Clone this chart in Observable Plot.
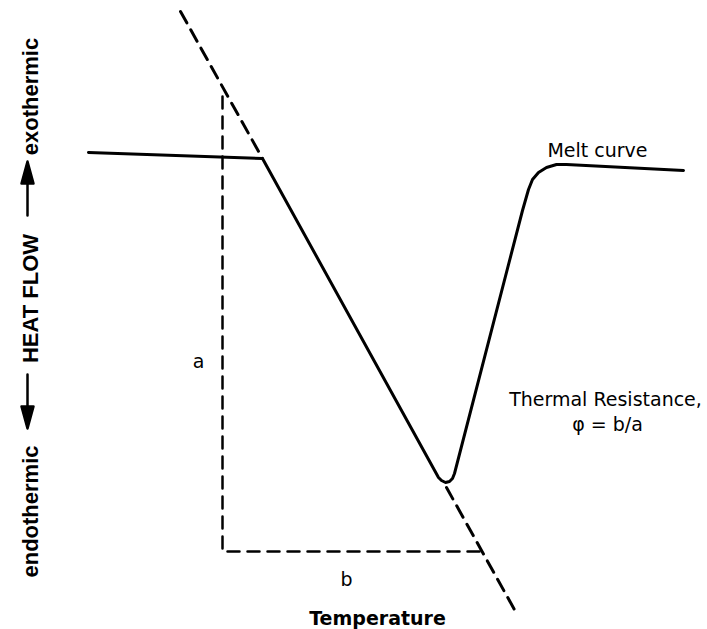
<!DOCTYPE html>
<html>
<head>
<meta charset="utf-8">
<script src="https://cdn.jsdelivr.net/npm/d3@7"></script>
<script src="https://cdn.jsdelivr.net/npm/@observablehq/plot@0.6"></script>
<style>
  html, body { margin: 0; padding: 0; background: #fff; }
  #chart svg { display: block; }
</style>
</head>
<body>
<div id="chart"></div>
<script>
// Schematic DSC melt curve (arbitrary units: temperature →, heat flow ↑)
const meltTemp = [88, 262, 438, 441, 445, 449, 452, 454, 522, 528, 532, 538, 546, 556, 566, 683];
const meltFlow = [477, 471, 152, 149, 147, 148, 151, 156, 419, 440, 450, 457, 462, 465, 465, 459];

// Extrapolated leading-edge slope (dashed), upper and lower parts
const slopeUpperTemp = [180, 262];
const slopeUpperFlow = [618, 471];
const slopeLowerTemp = [446, 515];
const slopeLowerFlow = [142, 18];

// Construction triangle: a (vertical) and b (horizontal)
const legTemp = [222, 222, 479];
const legFlow = [533, 78, 78];

// Annotations
const noteText = ["Melt curve", "Thermal Resistance,", "φ = b/a", "a", "b"];
const noteTemp = [597, 605, 607, 198, 346];
const noteFlow = [479, 230, 205, 268, 50];

const xTitle = "Temperature";
const xTitleTemp = 377, xTitleFlow = 11;

const yParts = ["exothermic", "HEAT FLOW", "endothermic"];
const yPartsFlow = [533, 331, 118];
const yPartsTemp = 30;
const yArrowStart = [414, 255];
const yArrowDir = [0, 180];
const yArrowTemp = 27;

const pts = (xs, ys) => xs.map((x, i) => ({x, y: ys[i]}));

const arrowShape = {
  draw(context, l) {
    const hl = 22, hw = 6;
    context.moveTo(0, 0);
    context.lineTo(0, -l + hl);
    context.moveTo(-hw, -l + hl);
    context.lineTo(0, -l);
    context.lineTo(hw, -l + hl);
    context.closePath();
  }
};

const chart = Plot.plot({
  width: 707,
  height: 629,
  margin: 0,
  x: {domain: [0, 707], range: [0, 707], axis: null},
  y: {domain: [0, 629], range: [629, 0], axis: null},
  style: {background: "#fff"},
  marks: [
    Plot.line(pts(slopeUpperTemp, slopeUpperFlow), {x: "x", y: "y", stroke: "black", strokeWidth: 3, strokeDasharray: "13,8"}),
    Plot.line(pts(slopeLowerTemp, slopeLowerFlow), {x: "x", y: "y", stroke: "black", strokeWidth: 3, strokeDasharray: "13,8"}),
    Plot.line(pts(legTemp, legFlow), {x: "x", y: "y", stroke: "black", strokeWidth: 2.5, strokeDasharray: "12,8"}),
    Plot.line(pts(meltTemp, meltFlow), {x: "x", y: "y", stroke: "black", strokeWidth: 3, strokeLinejoin: "round", strokeLinecap: "round"}),
    Plot.text(noteText.map((t, i) => ({t, x: noteTemp[i], y: noteFlow[i]})), {
      x: "x", y: "y", text: "t", fontSize: 19, fontFamily: "DejaVu Sans", fill: "black", textAnchor: "middle"
    }),
    Plot.text([{t: xTitle, x: xTitleTemp, y: xTitleFlow}], {
      x: "x", y: "y", text: "t", fontSize: 19, fontWeight: "bold", fontFamily: "DejaVu Sans", fill: "black", textAnchor: "middle"
    }),
    Plot.text(yParts.map((t, i) => ({t, y: yPartsFlow[i]})), {
      x: () => yPartsTemp, y: "y", text: "t", rotate: -90, fontSize: 22, fontWeight: "bold",
      fontFamily: "Liberation Sans", fill: "black", textAnchor: "middle"
    }),
    Plot.vector(yArrowStart.map((y, i) => ({y, r: yArrowDir[i]})), {
      x: () => yArrowTemp, y: "y", rotate: "r", length: 54, anchor: "start", shape: arrowShape,
      stroke: "black", fill: "black", strokeWidth: 2.5
    })
  ]
});
document.getElementById("chart").append(chart);
</script>
</body>
</html>
